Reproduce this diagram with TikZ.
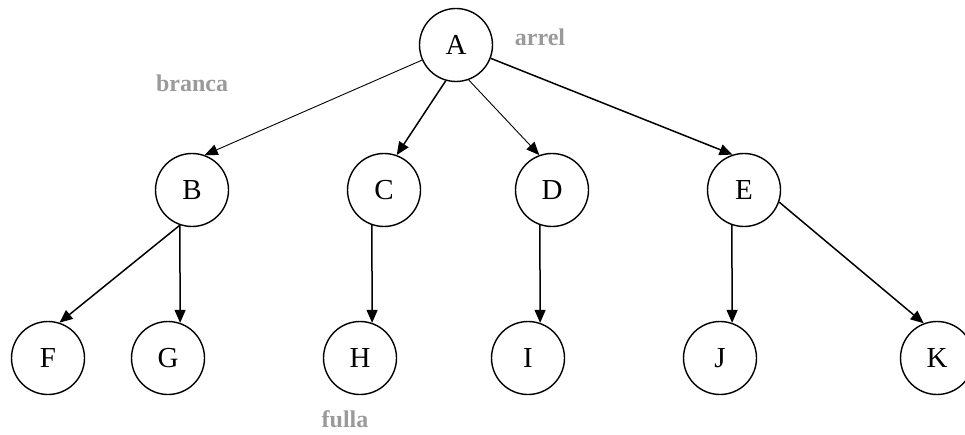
\documentclass[tikz,border=0pt]{standalone}
\usepackage{fontspec}
\setmainfont{Liberation Serif}
\usetikzlibrary{arrows.meta}
\definecolor{lblgray}{HTML}{9A9A9A}
\tikzset{
  treenode/.style={circle,draw,line width=1.4pt,minimum size=73pt,inner sep=0pt,font=\fontsize{29}{32}\selectfont},
  edge/.style={line width=1.5pt,-{Triangle[length=13pt,width=11pt]}},
  thinedge/.style={line width=0.9pt,-{Triangle[length=13pt,width=11pt]}},
  tag/.style={text=lblgray,font=\fontsize{24}{26}\selectfont\bfseries,inner sep=0pt}
}
\begin{document}
\begin{tikzpicture}[x=1pt,y=-1pt]
\useasboundingbox (0,0) rectangle (965,435);
\clip (0,0) rectangle (965,435);
\node[treenode] (A) at (456,45) {A};
\node[treenode] (B) at (192,190) {B};
\node[treenode] (C) at (384,190) {C};
\node[treenode] (D) at (552,190) {D};
\node[treenode] (E) at (744,190) {E};
\node[treenode] (F) at (48,358) {F};
\node[treenode] (G) at (168,358) {G};
\node[treenode] (H) at (360,358) {H};
\node[treenode] (I) at (528,358) {I};
\node[treenode] (J) at (720,358) {J};
\node[treenode] (K) at (937,358) {K};
\node[tag] (arrel) at (540,37) {arrel};
\node[tag] (branca) at (192,83) {branca};
\node[tag] (fulla) at (345,419) {fulla};
\draw[thinedge] (A.204) -- (B.70);
\draw[edge] (A.254) -- (C.70);
\draw[thinedge] (A.290) -- (D.110);
\draw[edge] (A.339) -- (E.108);
\draw[edge] (B.251) -- (F.72);
\draw[edge] (B.251) -- (G.71);
\draw[edge] (C.251) -- (H.71);
\draw[edge] (D.251) -- (I.71);
\draw[edge] (E.251) -- (J.71);
\draw[edge] (E.341) -- (K.111);
\end{tikzpicture}
\end{document}
